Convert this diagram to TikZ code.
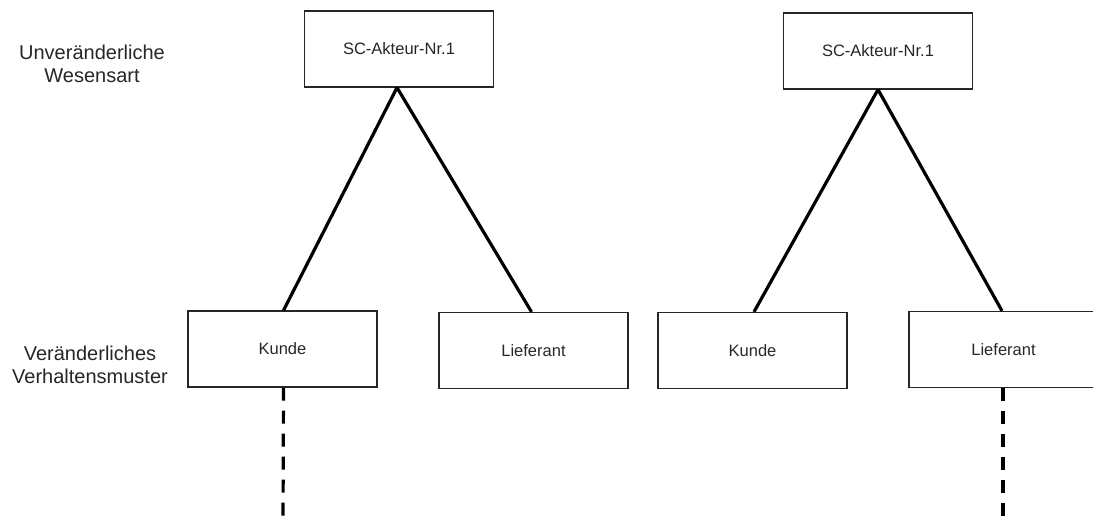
\documentclass[tikz,border=0pt]{standalone}
\usepackage{fontspec}
\setmainfont{Liberation Sans}
\begin{document}
\begin{tikzpicture}[x=1pt,y=-1pt,
  box/.style={draw=black!85, line width=1.2pt, minimum width=189pt, minimum height=76pt, inner sep=0pt, font=\fontsize{16.5}{20}\selectfont, text=black!85},
  lbl/.style={align=center, font=\fontsize{20}{23}\selectfont, text=black!85},
  link/.style={line width=3.2pt, black},
  dashlink/.style={line width=3.2pt, black, dash pattern=on 13pt off 10pt}]
\useasboundingbox (0,0) rectangle (1093,521);
\clip (0,0) rectangle (1093,521);
\node[box] (a1) at (399,49) {SC-Akteur-Nr.1};
\node[box] (a2) at (878,51) {SC-Akteur-Nr.1};
\node[box] (k1) at (282.5,349) {Kunde};
\node[box] (l1) at (533.5,350.5) {Lieferant};
\node[box] (k2) at (752.5,350.5) {Kunde};
\node[box] (l2) at (1003.5,349.5) {Lieferant};
\node[lbl] (t1) at (92,64) {Unveränderliche\\Wesensart};
\node[lbl] (t2) at (90,365) {Veränderliches\\Verhaltensmuster};
\coordinate (e1) at (283,524);
\coordinate (e2) at (1003,524);
\draw[link] ([xshift=-2pt]a1.south) -- ([xshift=1pt]k1.north);
\draw[link] ([xshift=-2pt]a1.south) -- ([xshift=-2pt]l1.north);
\draw[link] (a2.south) -- ([xshift=1.5pt]k2.north);
\draw[link] (a2.south) -- ([xshift=-1.5pt]l2.north);
\draw[dashlink] ([xshift=1pt]k1.south) -- (e1);
\draw[dashlink] ([xshift=-0.5pt]l2.south) -- (e2);
\end{tikzpicture}
\end{document}
